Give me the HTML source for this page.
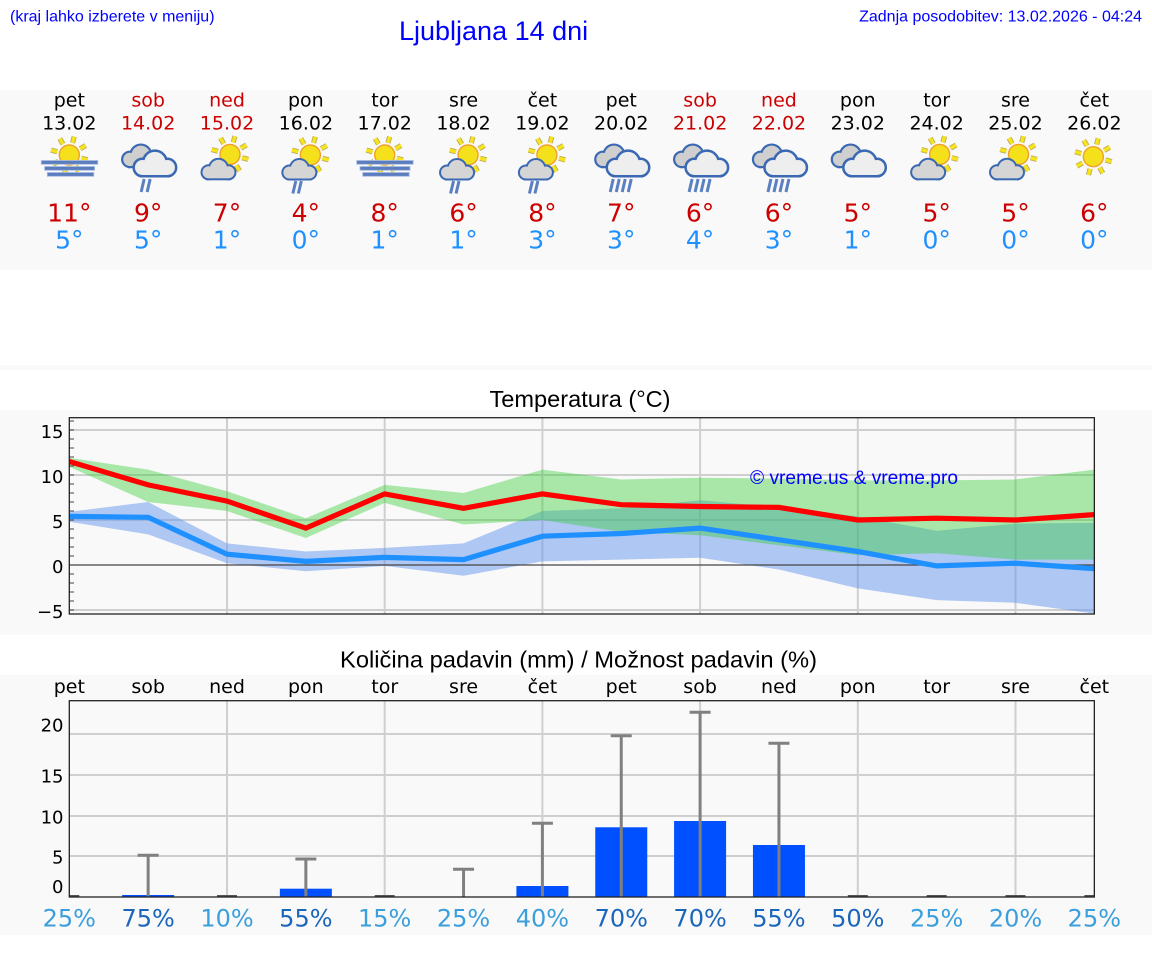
<!DOCTYPE html>
<html><head><meta charset="utf-8">
<style>
html,body{margin:0;padding:0;background:#fff;width:1152px;height:975px;overflow:hidden}
svg{display:block}
.dj{font-family:"DejaVu Sans","Liberation Sans",sans-serif}
.ar{font-family:"Liberation Sans",Arial,sans-serif}
</style></head><body>
<svg width="1152" height="975" viewBox="0 0 1152 975">
<defs>
<g id="sun">
 <path d="M12.07 3.24L18.35 4.92M6.25 10.83L9.5 16.45M-3.24 12.07L-4.92 18.35M-10.83 6.25L-16.45 9.5M-12.07 -3.24L-18.35 -4.92M-6.25 -10.83L-9.5 -16.45M3.24 -12.07L4.92 -18.35M10.83 -6.25L16.45 -9.5" stroke="#bcae55" stroke-width="5.2" fill="none"/>
 <path d="M12.07 3.24L18.35 4.92M6.25 10.83L9.5 16.45M-3.24 12.07L-4.92 18.35M-10.83 6.25L-16.45 9.5M-12.07 -3.24L-18.35 -4.92M-6.25 -10.83L-9.5 -16.45M3.24 -12.07L4.92 -18.35M10.83 -6.25L16.45 -9.5" stroke="#f7e41e" stroke-width="3.4" fill="none"/>
 <circle r="10" fill="#f5e11b" stroke="#f0a02c" stroke-width="1.4"/>
</g>
<g id="cl">
 <g fill="#3a68b2" stroke="#3a68b2" stroke-width="4">
  <circle cx="7" cy="-6" r="6"/><circle cx="17" cy="-10" r="8.5"/><circle cx="27" cy="-6" r="6"/><rect x="7" y="-8" width="20" height="8"/>
 </g>
 <g fill="currentColor">
  <circle cx="7" cy="-6" r="6"/><circle cx="17" cy="-10" r="8.5"/><circle cx="27" cy="-6" r="6"/><rect x="7" y="-8" width="20" height="8"/>
 </g>
</g>
<g id="iA">
 <use href="#sun" x="0" y="155"/>
 <g fill="#5b7dbf" stroke="#a8bce3" stroke-width="0.8">
  <rect x="-28" y="160.5" width="56.5" height="3.8"/>
  <rect x="-24.7" y="166.5" width="50" height="3.8"/>
  <rect x="-22" y="172.5" width="46.5" height="3.8"/>
 </g>
</g>
<g id="iF">
 <use href="#cl" transform="translate(-26,166) scale(1.1)" color="#cfcfcf"/>
 <use href="#cl" transform="translate(-14.5,175) scale(1.25)" color="#eeeeee"/>
</g>
<g id="iB">
 <use href="#iF"/>
 <path d="M-4 179L-7 192M2 179L-1 192" stroke="#5b80c2" stroke-width="3"/>
</g>
<g id="iE">
 <use href="#iF"/>
 <path d="M-8 179L-11 192M-2 179L-5 192M4 179L1 192M10 179L7 192" stroke="#5b80c2" stroke-width="3"/>
</g>
<g id="iC">
 <use href="#sun" x="3" y="154.5"/>
 <use href="#cl" transform="translate(-25.5,178.3)" color="#d5d5d5"/>
</g>
<g id="iD">
 <use href="#sun" x="4.5" y="155"/>
 <use href="#cl" transform="translate(-23.5,178.5)" color="#d5d5d5"/>
 <path d="M-10 181L-13 193.5M-4.5 181L-7.5 193.5" stroke="#5b80c2" stroke-width="3"/>
</g>
<g id="iG"><use href="#sun" x="-1" y="156.7"/></g>
<clipPath id="ct"><rect x="69.3" y="417.7" width="1025.05" height="196.3"/></clipPath>
<clipPath id="cp"><rect x="69.3" y="700.7" width="1025.05" height="196.3"/></clipPath>
</defs>

<!-- header -->
<text class="ar" x="10" y="21.5" font-size="16" fill="#0000ff">(kraj lahko izberete v meniju)</text>
<text class="ar" x="399" y="40" font-size="27" fill="#0000ff">Ljubljana 14 dni</text>
<text class="ar" x="1142" y="21.5" font-size="16" fill="#0000ff" text-anchor="end">Zadnja posodobitev: 13.02.2026 - 04:24</text>

<!-- panels -->
<rect x="0" y="90" width="1152" height="180" fill="#f9f9f9"/>
<rect x="0" y="365" width="1152" height="5" fill="#f9f9f9"/>
<rect x="0" y="410" width="1152" height="225" fill="#f9f9f9"/>
<rect x="0" y="675" width="1152" height="260" fill="#f9f9f9"/>

<!-- day headers -->
<g class="dj" font-size="19" text-anchor="middle">
<text x="69.3" y="106.5" fill="#000">pet</text><text x="69.3" y="129.3" fill="#000">13.02</text>
<text x="148.15" y="106.5" fill="#cc0000">sob</text><text x="148.15" y="129.3" fill="#cc0000">14.02</text>
<text x="227" y="106.5" fill="#cc0000">ned</text><text x="227" y="129.3" fill="#cc0000">15.02</text>
<text x="305.85" y="106.5" fill="#000">pon</text><text x="305.85" y="129.3" fill="#000">16.02</text>
<text x="384.7" y="106.5" fill="#000">tor</text><text x="384.7" y="129.3" fill="#000">17.02</text>
<text x="463.55" y="106.5" fill="#000">sre</text><text x="463.55" y="129.3" fill="#000">18.02</text>
<text x="542.4" y="106.5" fill="#000">čet</text><text x="542.4" y="129.3" fill="#000">19.02</text>
<text x="621.25" y="106.5" fill="#000">pet</text><text x="621.25" y="129.3" fill="#000">20.02</text>
<text x="700.1" y="106.5" fill="#cc0000">sob</text><text x="700.1" y="129.3" fill="#cc0000">21.02</text>
<text x="778.95" y="106.5" fill="#cc0000">ned</text><text x="778.95" y="129.3" fill="#cc0000">22.02</text>
<text x="857.8" y="106.5" fill="#000">pon</text><text x="857.8" y="129.3" fill="#000">23.02</text>
<text x="936.65" y="106.5" fill="#000">tor</text><text x="936.65" y="129.3" fill="#000">24.02</text>
<text x="1015.5" y="106.5" fill="#000">sre</text><text x="1015.5" y="129.3" fill="#000">25.02</text>
<text x="1094.35" y="106.5" fill="#000">čet</text><text x="1094.35" y="129.3" fill="#000">26.02</text>
</g>

<!-- icons -->
<use href="#iA" x="69.3"/>
<use href="#iB" x="148.15"/>
<use href="#iC" x="227"/>
<use href="#iD" x="305.85"/>
<use href="#iA" x="384.7"/>
<use href="#iD" x="463.55"/>
<use href="#iD" x="542.4"/>
<use href="#iE" x="621.25"/>
<use href="#iE" x="700.1"/>
<use href="#iE" x="778.95"/>
<use href="#iF" x="857.8"/>
<use href="#iC" x="936.65"/>
<use href="#iC" x="1015.5"/>
<use href="#iG" x="1094.35"/>

<!-- temps -->
<g class="dj" font-size="25" text-anchor="middle" fill="#cc0000">
<text x="69.3" y="221.7">11°</text><text x="148.15" y="221.7">9°</text><text x="227" y="221.7">7°</text><text x="305.85" y="221.7">4°</text><text x="384.7" y="221.7">8°</text><text x="463.55" y="221.7">6°</text><text x="542.4" y="221.7">8°</text><text x="621.25" y="221.7">7°</text><text x="700.1" y="221.7">6°</text><text x="778.95" y="221.7">6°</text><text x="857.8" y="221.7">5°</text><text x="936.65" y="221.7">5°</text><text x="1015.5" y="221.7">5°</text><text x="1094.35" y="221.7">6°</text>
</g>
<g class="dj" font-size="25" text-anchor="middle" fill="#1e90ff">
<text x="69.3" y="248.3">5°</text><text x="148.15" y="248.3">5°</text><text x="227" y="248.3">1°</text><text x="305.85" y="248.3">0°</text><text x="384.7" y="248.3">1°</text><text x="463.55" y="248.3">1°</text><text x="542.4" y="248.3">3°</text><text x="621.25" y="248.3">3°</text><text x="700.1" y="248.3">4°</text><text x="778.95" y="248.3">3°</text><text x="857.8" y="248.3">1°</text><text x="936.65" y="248.3">0°</text><text x="1015.5" y="248.3">0°</text><text x="1094.35" y="248.3">0°</text>
</g>

<!-- TEMPERATURE CHART -->
<text class="ar" x="580" y="407" font-size="23" text-anchor="middle" fill="#000" textLength="181" lengthAdjust="spacingAndGlyphs">Temperatura (°C)</text>
<g stroke="#cfcfcf" stroke-width="2">
 <path d="M227 417.7V614M384.7 417.7V614M542.4 417.7V614M700.1 417.7V614M857.8 417.7V614M1015.5 417.7V614"/>
 <path d="M69.3 430H1094.35M69.3 475H1094.35M69.3 520H1094.35M69.3 610H1094.35"/>
</g>
<g clip-path="url(#ct)">
 <polygon fill="#6495ed" fill-opacity="0.5" points="69.3,511.9 148.15,502 227,543.4 305.85,551.5 384.7,547.9 463.55,543.4 542.4,511 621.25,508.3 700.1,500.2 778.95,507.4 857.8,516.4 936.65,530.8 1015.5,523.6 1094.35,522.7 1094.35,613.6 1015.5,602.8 936.65,600.1 857.8,588.4 778.95,569.5 700.1,557.8 621.25,559.6 542.4,561.4 463.55,575.8 384.7,565.9 305.85,571.3 227,563.2 148.15,534.4 69.3,521.8"/>
 <polygon fill="#32cd32" fill-opacity="0.4" points="69.3,457.9 148.15,469.6 227,491.2 305.85,518.2 384.7,484.9 463.55,493 542.4,469.6 621.25,479.5 700.1,477.7 778.95,478.6 857.8,480.4 936.65,480.4 1015.5,479.5 1094.35,469.6 1094.35,559.6 1015.5,559.6 936.65,553.3 857.8,555.1 778.95,545.2 700.1,535.3 621.25,531.7 542.4,520 463.55,524.5 384.7,502.9 305.85,538 227,511 148.15,502 69.3,466.9"/>
 <path d="M69.3 565H1094.35" stroke="#444" stroke-width="1.2"/>
 <polyline fill="none" stroke="#ff0000" stroke-width="5.2" points="69.3,461.5 148.15,484.9 227,501.1 305.85,528.1 384.7,493.9 463.55,508.3 542.4,493.9 621.25,504.7 700.1,506.5 778.95,507.4 857.8,520 936.65,518.2 1015.5,520 1094.35,514.6"/>
 <polyline fill="none" stroke="#1e90ff" stroke-width="5.2" points="69.3,516.4 148.15,517.3 227,554.2 305.85,561.4 384.7,557.35 463.55,559.6 542.4,536.2 621.25,533.5 700.1,528.1 778.95,539.8 857.8,551.5 936.65,565.9 1015.5,563.2 1094.35,568.6"/>
</g>
<text class="ar" x="750" y="484" font-size="19" fill="#0000ff" textLength="208" lengthAdjust="spacingAndGlyphs">© vreme.us &amp; vreme.pro</text>
<path stroke="#444" stroke-width="1" d="M69.3 610h4.7M69.3 601h4.7M69.3 592h4.7M69.3 583h4.7M69.3 574h4.7M69.3 556h4.7M69.3 547h4.7M69.3 538h4.7M69.3 529h4.7M69.3 520h4.7M69.3 511h4.7M69.3 502h4.7M69.3 493h4.7M69.3 484h4.7M69.3 475h4.7M69.3 466h4.7M69.3 457h4.7M69.3 448h4.7M69.3 439h4.7M69.3 430h4.7M69.3 421h4.7"/>
<rect x="69.3" y="417.7" width="1025.05" height="196.3" fill="none" stroke="#222" stroke-width="1.3"/>
<g class="dj" font-size="18" text-anchor="end" fill="#000">
<text x="63.5" y="438">15</text><text x="63.5" y="483">10</text><text x="63.5" y="528">5</text><text x="63.5" y="573">0</text><text x="63.5" y="618">−5</text>
</g>

<!-- PRECIP CHART -->
<text class="ar" x="578.5" y="667.3" font-size="23" text-anchor="middle" fill="#000" textLength="477" lengthAdjust="spacingAndGlyphs">Količina padavin (mm) / Možnost padavin (%)</text>
<g class="dj" font-size="19" text-anchor="middle" fill="#000">
<text x="69.3" y="693">pet</text><text x="148.15" y="693">sob</text><text x="227" y="693">ned</text><text x="305.85" y="693">pon</text><text x="384.7" y="693">tor</text><text x="463.55" y="693">sre</text><text x="542.4" y="693">čet</text><text x="621.25" y="693">pet</text><text x="700.1" y="693">sob</text><text x="778.95" y="693">ned</text><text x="857.8" y="693">pon</text><text x="936.65" y="693">tor</text><text x="1015.5" y="693">sre</text><text x="1094.35" y="693">čet</text>
</g>
<g stroke="#cfcfcf" stroke-width="2">
 <path d="M227 700.7V897M384.7 700.7V897M542.4 700.7V897M700.1 700.7V897M857.8 700.7V897M1015.5 700.7V897"/>
 <path d="M69.3 734H1094.35M69.3 775H1094.35M69.3 816H1094.35M69.3 856H1094.35"/>
</g>
<g clip-path="url(#cp)">
 <g fill="#0050ff">
  <rect x="122.15" y="895" width="52" height="2"/>
  <rect x="279.85" y="888.7" width="52" height="8.3"/>
  <rect x="516.4" y="886" width="52" height="11"/>
  <rect x="595.25" y="827.3" width="52" height="69.7"/>
  <rect x="674.1" y="821" width="52" height="76"/>
  <rect x="752.95" y="845" width="52" height="52"/>
 </g>
 <g stroke="#808080" stroke-width="3" fill="none">
  <path d="M148.15 897V855.3M137.65 855.3h21"/>
  <path d="M305.85 897V859M295.35 859h21"/>
  <path d="M463.55 897V869.3M453.05 869.3h21"/>
  <path d="M542.4 897V823.3M531.9 823.3h21"/>
  <path d="M621.25 897V735.7M610.75 735.7h21"/>
  <path d="M700.1 897V712.3M689.6 712.3h21"/>
  <path d="M778.95 897V743.3M768.45 743.3h21"/>
 </g>
 <g stroke="#555" stroke-width="2.5">
  <path d="M59.3 896.3h20M217 896.3h20M374.7 896.3h20M847.8 896.3h20M926.65 896.3h20M1005.5 896.3h20M1084.35 896.3h20"/>
 </g>
</g>
<rect x="69.3" y="700.7" width="1025.05" height="196.3" fill="none" stroke="#222" stroke-width="1.3"/>
<g class="dj" font-size="18" text-anchor="end" fill="#000">
<text x="63.5" y="731.5">20</text><text x="63.5" y="782.5">15</text><text x="63.5" y="823.5">10</text><text x="63.5" y="863.5">5</text><text x="63.5" y="893">0</text>
</g>
<g class="dj" font-size="24" text-anchor="middle">
<text x="69.3" y="926.7" fill="#3a9fdc">25%</text>
<text x="148.15" y="926.7" fill="#1a66bb">75%</text>
<text x="227" y="926.7" fill="#3a9fdc">10%</text>
<text x="305.85" y="926.7" fill="#1a66bb">55%</text>
<text x="384.7" y="926.7" fill="#3a9fdc">15%</text>
<text x="463.55" y="926.7" fill="#3a9fdc">25%</text>
<text x="542.4" y="926.7" fill="#3a9fdc">40%</text>
<text x="621.25" y="926.7" fill="#1a66bb">70%</text>
<text x="700.1" y="926.7" fill="#1a66bb">70%</text>
<text x="778.95" y="926.7" fill="#1a66bb">55%</text>
<text x="857.8" y="926.7" fill="#1a66bb">50%</text>
<text x="936.65" y="926.7" fill="#3a9fdc">25%</text>
<text x="1015.5" y="926.7" fill="#3a9fdc">20%</text>
<text x="1094.35" y="926.7" fill="#3a9fdc">25%</text>
</g>
</svg>
</body></html>
